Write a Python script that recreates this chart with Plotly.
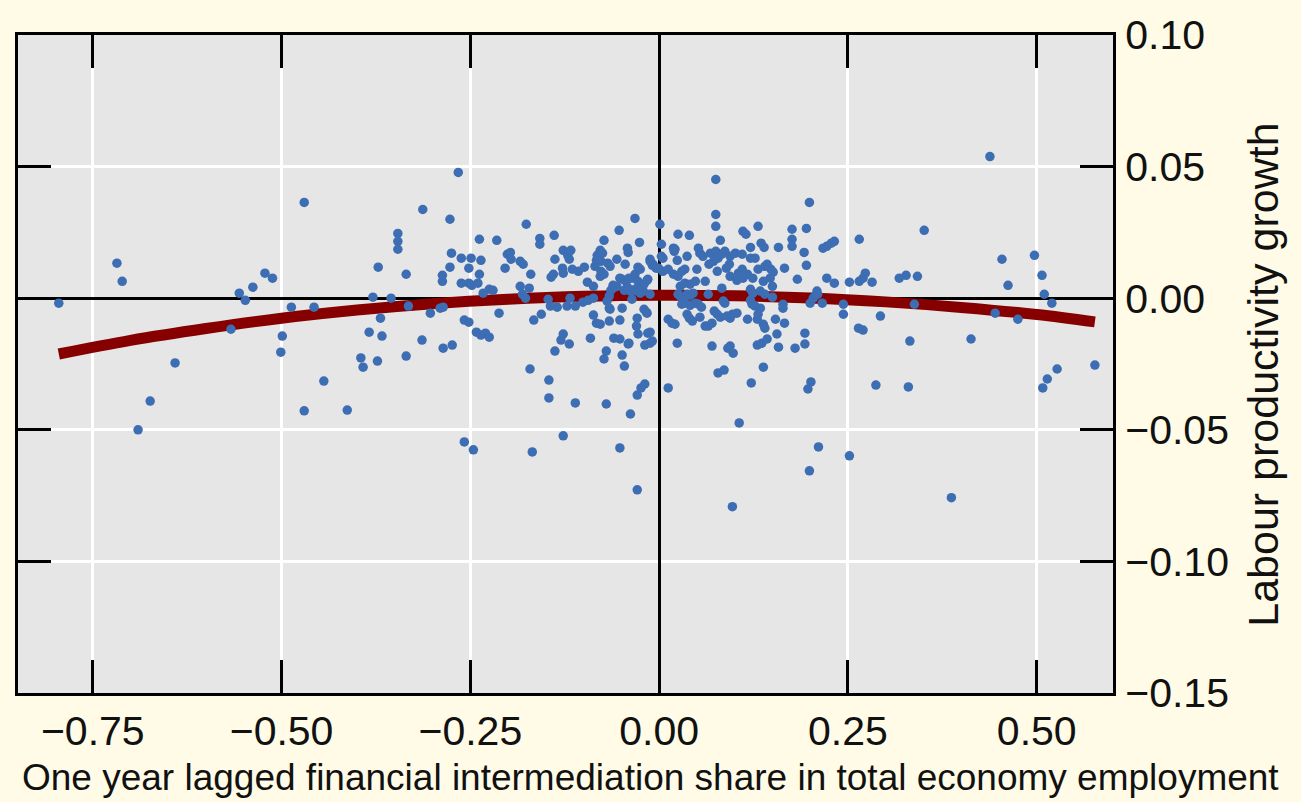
import plotly.graph_objects as go

# One year lagged financial intermediation share (x) vs labour productivity growth (y)
fin_share = [
    -0.795, -0.718, -0.711, -0.641, -0.674, -0.690, -0.567, -0.556, -0.548, -0.538,
    -0.522, -0.512, -0.487, -0.499, -0.501, -0.470, -0.470, -0.457, -0.444, -0.413,
    -0.395, -0.392, -0.384, -0.379, -0.373, -0.372, -0.369, -0.367, -0.355, -0.346,
    -0.346, -0.346, -0.335, -0.335, -0.332, -0.314, -0.313, -0.303, -0.290, -0.286,
    -0.287, -0.287, -0.286, -0.277, -0.277, -0.275, -0.274, -0.266, -0.262, -0.262,
    -0.258, -0.258, -0.252, -0.252, -0.252, -0.249, -0.248, -0.246, -0.240, -0.238,
    -0.238, -0.236, -0.236, -0.242, -0.230, -0.225, -0.233, -0.225, -0.220, -0.215,
    -0.212, -0.204, -0.201, -0.197, -0.196, -0.184, -0.180, -0.184, -0.172, -0.181,
    -0.177, -0.176, -0.170, -0.171, -0.168, -0.166, -0.156, -0.158, -0.158, -0.147,
    -0.144, -0.146, -0.146, -0.143, -0.140, -0.139, -0.138, -0.138, -0.135, -0.130,
    -0.128, -0.127, -0.127, -0.127, -0.127, -0.121, -0.119, -0.117, -0.122, -0.118,
    -0.119, -0.115, -0.111, -0.111, -0.107, -0.099, -0.101, -0.095, -0.094, -0.091,
    -0.087, -0.087, -0.087, -0.085, -0.083, -0.083, -0.082, -0.078, -0.078, -0.078,
    -0.077, -0.077, -0.073, -0.073, -0.075, -0.070, -0.073, -0.070, -0.068, -0.065,
    -0.066, -0.066, -0.066, -0.064, -0.061, -0.069, -0.065, -0.061, -0.060, -0.056,
    -0.056, -0.053, -0.052, -0.052, -0.052, -0.052, -0.049, -0.049, -0.049, -0.046,
    -0.046, -0.045, -0.044, -0.042, -0.042, -0.041, -0.041, -0.040, -0.040, -0.038,
    -0.038, -0.036, -0.036, -0.032, -0.032, -0.032, -0.029, -0.029, -0.029, -0.030,
    -0.029, -0.028, -0.028, -0.028, -0.026, -0.025, -0.025, -0.024, -0.023, -0.021,
    -0.020, -0.020, -0.019, -0.019, -0.017, -0.016, -0.016, -0.015, -0.015, -0.012,
    -0.012, -0.012, -0.012, -0.009, -0.009, -0.008, -0.004, -0.012, 0.001, -0.001,
    0.003, 0.003, 0.005, 0.005, 0.012, 0.012, 0.012, 0.017, 0.019, 0.020,
    0.019, 0.021, 0.021, 0.024, 0.024, 0.025, 0.025, 0.025, 0.028, 0.028,
    0.030, 0.030, 0.032, 0.034, 0.034, 0.034, 0.037, 0.037, 0.037, 0.040,
    0.041, 0.041, 0.041, 0.040, 0.044, 0.045, 0.048, 0.048, 0.050, 0.052,
    0.052, 0.054, 0.054, 0.056, 0.058, 0.061, 0.061, 0.065, 0.065, 0.066,
    0.068, 0.070, 0.070, 0.072, 0.073, 0.075, 0.075, 0.075, 0.075, 0.077,
    0.077, 0.078, 0.078, 0.081, 0.081, 0.083, 0.083, 0.085, 0.086, 0.087,
    0.087, 0.089, 0.090, 0.091, 0.093, 0.094, 0.094, 0.094, 0.094, 0.097,
    0.098, 0.101, 0.103, 0.103, 0.105, 0.106, 0.097, 0.110, 0.110, 0.111,
    0.111, 0.115, 0.117, 0.117, 0.121, 0.121, 0.121, 0.121, 0.123, 0.122,
    0.124, 0.124, 0.127, 0.127, 0.130, 0.130, 0.131, 0.131, 0.131, 0.134,
    0.134, 0.135, 0.136, 0.138, 0.138, 0.138, 0.139, 0.140, 0.140, 0.140,
    0.143, 0.143, 0.148, 0.151, 0.147, 0.150, 0.150, 0.154, 0.156, 0.158,
    0.158, 0.164, 0.164, 0.166, 0.166, 0.176, 0.176, 0.176, 0.180, 0.183,
    0.192, 0.195, 0.195, 0.193, 0.193, 0.199, 0.197, 0.201, 0.199, 0.200,
    0.204, 0.207, 0.209, 0.210, 0.216, 0.211, 0.217, 0.222, 0.222, 0.228,
    0.232, 0.232, 0.244, 0.244, 0.252, 0.252, 0.264, 0.265, 0.265, 0.270,
    0.270, 0.273, 0.282, 0.287, 0.293, 0.318, 0.327, 0.330, 0.332, 0.338,
    0.342, 0.351, 0.387, 0.413, 0.438, 0.445, 0.454, 0.462, 0.475, 0.497,
    0.507, 0.508, 0.510, 0.514, 0.520, 0.527, 0.577,
]

prod_growth = [
    -0.0019, 0.0133, 0.0064, -0.0246, -0.0391, -0.0500, -0.0118, 0.0019, -0.0008, 0.0042,
    0.0095, 0.0076, -0.0034, -0.0144, -0.0205, 0.0364, -0.0428, -0.0034, -0.0315, -0.0425,
    -0.0227, -0.0262, -0.0129, 0.0004, -0.0239, 0.0118, -0.0076, -0.0144, 0.0000, 0.0246,
    0.0216, 0.0186, 0.0091, -0.0220, -0.0030, -0.0159, 0.0337, -0.0057, -0.0038, -0.0034,
    0.0087, 0.0064, -0.0190, 0.0300, 0.0118, 0.0171, -0.0178, 0.0478, 0.0152, 0.0057,
    -0.0083, -0.0546, -0.0091, 0.0114, 0.0057, 0.0152, 0.0049, -0.0576, 0.0057, 0.0091,
    0.0224, 0.0144, -0.0140, -0.0129, -0.0133, -0.0148, 0.0019, 0.0034, 0.0030, 0.0220,
    -0.0057, 0.0114, 0.0167, 0.0174, 0.0148, 0.0140, 0.0129, 0.0045, 0.0038, 0.0015,
    0.0000, 0.0281, 0.0091, -0.0269, -0.0584, -0.0083, -0.0061, 0.0227, 0.0205, -0.0004,
    -0.0030, -0.0311, -0.0379, 0.0080, 0.0091, 0.0239, 0.0148, -0.0201, -0.0034, -0.0159,
    0.0114, 0.0095, 0.0182, -0.0136, -0.0523, 0.0163, 0.0148, 0.0182, -0.0030, 0.0000,
    -0.0174, 0.0110, -0.0030, -0.0398, 0.0102, 0.0118, -0.0015, 0.0061, -0.0008, -0.0152,
    0.0000, 0.0045, -0.0064, 0.0121, -0.0095, 0.0144, 0.0163, 0.0182, -0.0099, 0.0083,
    0.0140, 0.0102, 0.0220, 0.0091, 0.0171, -0.0201, -0.0231, -0.0402, 0.0133, 0.0121,
    0.0008, -0.0038, -0.0087, 0.0030, 0.0049, -0.0011, -0.0042, 0.0038, -0.0152, 0.0148,
    0.0045, 0.0258, 0.0076, -0.0155, -0.0083, -0.0569, -0.0216, 0.0072, -0.0038, -0.0258,
    0.0030, 0.0129, 0.0064, 0.0042, 0.0190, 0.0174, -0.0174, 0.0076, -0.0171, 0.0027,
    -0.0440, -0.0004, 0.0076, 0.0303, 0.0091, 0.0034, 0.0027, -0.0076, -0.0368, -0.0106,
    -0.0728, -0.0136, 0.0118, 0.0064, 0.0212, 0.0110, 0.0019, -0.0341, 0.0038, 0.0027,
    0.0053, -0.0042, -0.0178, -0.0326, -0.0053, 0.0068, -0.0057, 0.0072, -0.0133, 0.0148,
    0.0015, -0.0129, -0.0171, -0.0163, 0.0125, 0.0129, 0.0114, 0.0140, 0.0281, 0.0114,
    0.0205, 0.0159, 0.0152, 0.0102, 0.0110, -0.0080, -0.0341, -0.0095, 0.0190, 0.0178,
    0.0091, -0.0099, 0.0186, 0.0144, -0.0171, 0.0243, 0.0083, 0.0015, 0.0045, 0.0008,
    0.0102, -0.0023, 0.0000, 0.0110, 0.0057, -0.0019, 0.0159, 0.0015, -0.0061, 0.0239,
    0.0053, 0.0011, -0.0027, -0.0076, -0.0087, 0.0019, 0.0064, -0.0019, 0.0110, 0.0190,
    -0.0023, 0.0171, -0.0072, -0.0034, 0.0159, 0.0064, -0.0106, 0.0015, -0.0106, 0.0129,
    0.0171, -0.0095, -0.0182, 0.0140, -0.0049, 0.0451, 0.0318, 0.0273, 0.0178, 0.0102,
    -0.0061, 0.0152, -0.0284, 0.0220, -0.0072, 0.0167, 0.0038, -0.0011, -0.0273, 0.0178,
    -0.0019, 0.0114, -0.0068, -0.0190, 0.0129, 0.0159, 0.0083, -0.0076, -0.0182, -0.0061,
    -0.0209, 0.0171, 0.0068, -0.0057, 0.0095, -0.0474, -0.0792, 0.0167, 0.0110, 0.0254,
    0.0076, 0.0243, 0.0091, -0.0080, 0.0193, 0.0152, 0.0034, -0.0008, -0.0023, -0.0322,
    0.0019, 0.0076, -0.0030, 0.0152, -0.0080, -0.0178, 0.0273, 0.0110, -0.0061, 0.0027,
    -0.0038, 0.0209, -0.0171, 0.0064, -0.0099, -0.0262, 0.0193, 0.0121, 0.0015, -0.0114,
    0.0129, -0.0155, 0.0110, 0.0099, 0.0076, 0.0045, 0.0004, -0.0080, -0.0136, -0.0186,
    0.0193, -0.0023, -0.0038, 0.0114, -0.0095, 0.0262, 0.0224, 0.0197, -0.0190, 0.0072,
    0.0174, 0.0265, 0.0125, -0.0133, -0.0174, 0.0364, -0.0345, -0.0318, -0.0656, -0.0019,
    0.0000, 0.0011, 0.0027, 0.0015, -0.0019, -0.0565, 0.0190, 0.0076, 0.0197, 0.0209,
    0.0216, 0.0057, -0.0023, -0.0061, 0.0061, -0.0599, -0.0114, 0.0064, 0.0224, -0.0121,
    0.0076, 0.0095, 0.0061, -0.0330, -0.0068, 0.0076, 0.0087, -0.0337, -0.0163, -0.0023,
    0.0083, 0.0258, -0.0758, -0.0155, 0.0538, -0.0057, 0.0148, 0.0049, -0.0080, 0.0163,
    0.0087, -0.0341, 0.0015, -0.0307, -0.0019, -0.0269, -0.0254,
]

# Fitted (quadratic) curve
fit_x = [-0.795, -0.70, -0.60, -0.50, -0.40, -0.30, -0.20, -0.10, 0.00, 0.10, 0.20, 0.30, 0.40, 0.50, 0.577]
fit_y = [-0.0212, -0.0160, -0.0115, -0.0076, -0.0045, -0.0021, -0.0004, 0.0007, 0.0011, 0.0009, 0.0001, -0.0014, -0.0035, -0.0062, -0.0090]

x_ticks = [-0.75, -0.50, -0.25, 0.00, 0.25, 0.50]
y_ticks = [-0.15, -0.10, -0.05, 0.00, 0.05, 0.10]

x_title = "One year lagged financial intermediation share in total economy employment"
y_title = "Labour productivity growth"

FONT = "Liberation Sans, Arial, sans-serif"
PAPER = "#fffbe7"

fig = go.Figure()
fig.add_trace(go.Scatter(
    x=fit_x, y=fit_y, mode="lines",
    line=dict(color="#860000", width=11, shape="spline"),
    showlegend=False, hoverinfo="skip",
))
fig.add_trace(go.Scatter(
    x=fin_share, y=prod_growth, mode="markers",
    marker=dict(size=9.5, color="#3d6db3", line=dict(width=0)),
    showlegend=False, hoverinfo="skip",
))

axis_common = dict(
    showgrid=True, gridcolor="white", gridwidth=3,
    zeroline=True, zerolinecolor="black", zerolinewidth=3,
    showline=True, linecolor="black", linewidth=3, mirror="allticks",
    ticks="inside", ticklen=33, tickwidth=3, tickcolor="black",
    tickformat=".2f", tickfont=dict(family=FONT, size=41, color="#111111"),
)

fig.update_layout(
    width=1301, height=802,
    margin=dict(l=18, r=188, t=33, b=109),
    paper_bgcolor=PAPER, plot_bgcolor="#e6e6e6",
    xaxis=dict(range=[-0.849, 0.601], tickvals=x_ticks, ticklabelstandoff=0, **axis_common),
    yaxis=dict(range=[-0.15, 0.10], tickvals=y_ticks, side="right", ticklabelstandoff=1, **axis_common),
    annotations=[
        dict(text=x_title, xref="paper", yref="paper", x=0.578, y=-0.129,
             xanchor="center", yanchor="middle", showarrow=False,
             font=dict(family=FONT, size=37, color="#111111")),
        dict(text=y_title, xref="paper", yref="paper", x=1.1375, y=0.483,
             xanchor="center", yanchor="middle", showarrow=False, textangle=-90,
             font=dict(family=FONT, size=43, color="#111111")),
    ],
)

fig.write_html(
    "out.html",
    config={"displayModeBar": False},
    post_script="document.body.style.margin='0';document.body.style.background='%s';" % PAPER,
)
